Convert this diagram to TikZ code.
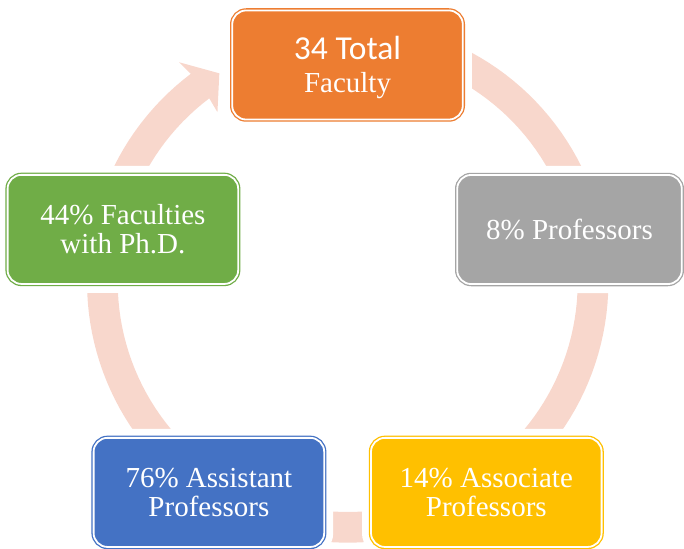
\documentclass[tikz,border=0pt]{standalone}
\usepackage{fontspec}
\setmainfont{Liberation Serif}
\newfontfamily\calibfont{Carlito}
\definecolor{ringc}{RGB}{248,215,204}
\definecolor{boxorange}{RGB}{237,125,49}
\definecolor{boxgray}{RGB}{165,165,165}
\definecolor{boxyellow}{RGB}{255,192,0}
\definecolor{boxblue}{RGB}{68,114,196}
\definecolor{boxgreen}{RGB}{112,173,71}
\begin{document}
\begin{tikzpicture}[x=1pt,y=-1pt,
  box/.style={rectangle, rounded corners=14pt, draw=#1, fill=#1,
    double=white, double distance=1.8pt, line width=1.3pt,
    text=white, align=center, inner sep=0pt,
    minimum width=230.6pt, minimum height=109.1pt,
    font=\fontsize{29}{29}\selectfont,
    preaction={draw=white, line width=18pt}}]
\useasboundingbox (0,0) rectangle (684,548);
% continuous ring arrow
\fill[ringc]
  plot[domain=-457:-127, samples=150] ({347.7+260.7*cos(\x)},{282+260.7*sin(\x)})
  -- ({347.7+277*cos(-127.5)},{282+277*sin(-127.5)})
  -- ({347.7+245*cos(-121.6)},{282+245*sin(-121.6)})
  -- ({347.7+214*cos(-127.5)},{282+214*sin(-127.5)})
  -- plot[domain=-127:-457, samples=150] ({347.7+230*cos(\x)},{282+230*sin(\x)})
  -- cycle;
% boxes
\node[box=boxorange, font=\fontsize{29}{32.6}\selectfont] (total) at (347.5,65)
  {{\calibfont\fontsize{33.5}{32.6}\selectfont\rule{0pt}{28pt}34 Total}\\Faculty};
\node[box=boxgray, minimum width=224.6pt] (prof) at (569.5,229.5) {8\% Professors};
\node[box=boxyellow] (assoc) at (486.3,492.4) {14\% Associate\\Professors};
\node[box=boxblue] (assist) at (208.9,492.4) {76\% Assistant\\Professors};
\node[box=boxgreen] (phd) at (122.9,229.4) {44\% Faculties\\with Ph.D.};
\end{tikzpicture}
\end{document}
